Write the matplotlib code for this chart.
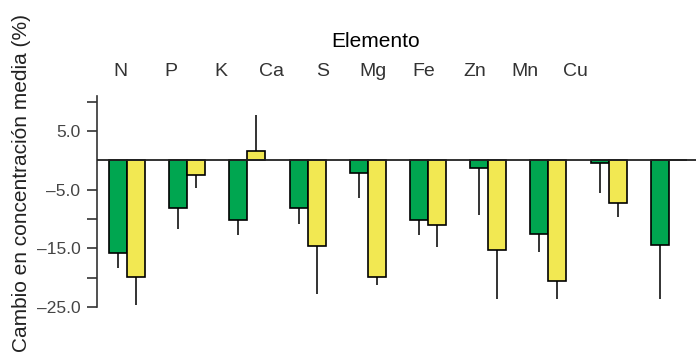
import matplotlib.pyplot as plt
import numpy as np

plt.rcParams['font.family'] = ['Liberation Sans', 'DejaVu Sans']

elementos = ['N', 'P', 'K', 'Ca', 'S', 'Mg', 'Fe', 'Zn', 'Mn', 'Cu']
verde = [-15.9, -8.2, -10.1, -8.2, -2.1, -10.1, -1.3, -12.5, -0.5, -14.5]
verde_err = [2.4, 3.6, 2.7, 2.7, 4.4, 2.7, 8.0, 3.2, 5.1, 9.2]
amarillo = [-19.9, -2.5, 1.6, -14.7, -19.9, -11.1, -15.3, -20.6, -7.2, 0.0]
amarillo_err = [4.8, 2.3, 6.2, 8.1, 1.3, 3.7, 8.4, 3.1, 2.4, 0.0]
yticks = [5, -5, -15, -25]
yticklabels = ['5.0', '\u20135.0', '\u201315.0', '\u201325.0']

fig = plt.figure(figsize=(6.96, 3.54), dpi=100)
ax = fig.add_axes([97 / 696, 0, 599 / 696, 264 / 354])

x = np.arange(len(elementos))
w = 0.30

def barras(pos, vals, errs, color):
    vals = np.array(vals)
    errs = np.array(errs)
    ax.bar(pos, vals, width=w, color=color, edgecolor='black', linewidth=1.2, zorder=3)
    # error solo hacia afuera de la barra
    lower = np.where(vals < 0, errs, 0)
    upper = np.where(vals >= 0, errs, 0)
    ax.errorbar(pos, vals, yerr=[lower, upper], fmt='none', ecolor='#333333',
                elinewidth=1.4, capsize=0, zorder=2)

barras(x - w / 2, verde, verde_err, '#00a650')
barras(x + w / 2, amarillo, amarillo_err, '#f2e852')

ax.axhline(0, color='#222222', linewidth=1.3, zorder=4)

ax.set_xlim(-0.498, 9.452)
ax.set_ylim(-33.05, 12.0)
ax.set_xticks([])

# etiquetas de elementos arriba, en su propio eje
ax2 = ax.twiny()
ax2.set_xlim(-0.4545, 11.38)
ax2.set_xticks(x)
ax2.set_xticklabels(elementos)
ax2.tick_params(axis='x', length=0, labelsize=14, labelcolor='#333333', pad=7)
for s in ax2.spines.values():
    s.set_visible(False)

ax.set_yticks(yticks)
ax.set_yticklabels(yticklabels)
ax.set_yticks([10, -10, -20], minor=True)
ax.tick_params(axis='y', which='both', length=7, width=1.2, color='#333333',
               labelsize=12.5, labelcolor='#444444', pad=5)
for s in ['top', 'right', 'bottom']:
    ax.spines[s].set_visible(False)
ax.spines['left'].set_bounds(-25, 10.9)
ax.spines['left'].set_linewidth(1.2)
ax.spines['left'].set_color('#333333')

fig.text(375.8 / 696, 1 - 41.7 / 354, 'Elemento', fontsize=15, ha='center', va='center')
fig.text(22 / 696, 1 - 183 / 354, 'Cambio en concentración media (%)', fontsize=15,
         rotation=90, ha='center', va='center', color='#222222')

fig.savefig('out.png', dpi=100)
